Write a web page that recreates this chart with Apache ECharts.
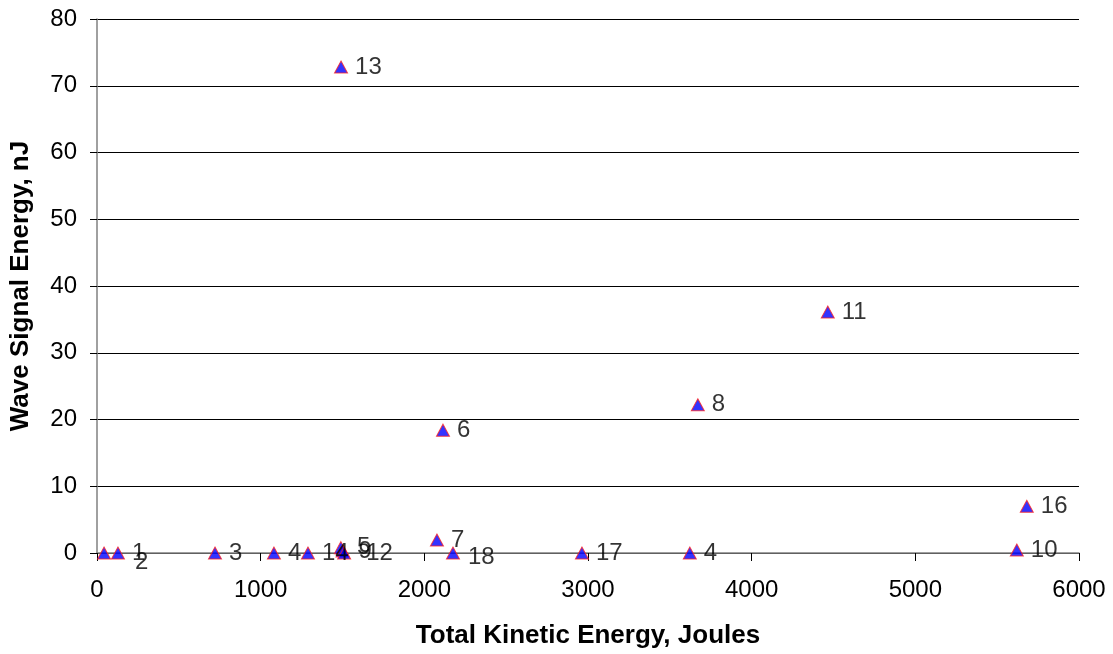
<!DOCTYPE html>
<html>
<head>
<meta charset="utf-8">
<script src="https://cdn.jsdelivr.net/npm/echarts@6/dist/echarts.min.js"></script>
<style>
html,body{margin:0;padding:0;background:#fff;}
#chart{width:1113px;height:654px;}
</style>
</head>
<body>
<div id="chart"></div>
<script>
// Data
const pointNames     = ['2', '1', '3', '4', '14', '5', '9', '12', '13', '7', '6', '18', '17', '4', '8', '11', '10', '16'];
const kineticEnergy  = [43, 128, 721, 1081, 1289, 1490, 1500, 1510, 1491, 2077, 2114, 2175, 2963, 3622, 3671, 4465, 5620, 5681];
const signalEnergy   = [0, 0, 0, 0, 0, 0.8, 0.3, 0, 72.8, 1.95, 18.4, 0, 0, 0, 22.2, 36.1, 0.45, 7.0];
const xTicks = [0, 1000, 2000, 3000, 4000, 5000, 6000];
const yTicks = [0, 10, 20, 30, 40, 50, 60, 70, 80];

// label nudges (layout only)
const labelOffsets = { 0: [17, 9], 5: [2, 0], 6: [2, 0], 7: [8, 0], 11: [1, 4] };

const data = kineticEnergy.map((x, i) => {
  const item = { value: [x, signalEnergy[i]], name: pointNames[i] };
  if (labelOffsets[i]) item.label = { offset: labelOffsets[i] };
  return item;
});

const chart = echarts.init(document.getElementById('chart'));
chart.setOption({
  animation: false,
  grid: { left: 97, right: 34, top: 19, bottom: 101, outerBoundsMode: 'none', containLabel: false },
  xAxis: {
    type: 'value', min: xTicks[0], max: xTicks[xTicks.length - 1], interval: 1000,
    name: 'Total Kinetic Energy, Joules', nameLocation: 'middle', nameGap: 70,
    nameTextStyle: { fontFamily: 'Liberation Sans', fontWeight: 'bold', fontSize: 26, color: '#000' },
    axisLine: { lineStyle: { color: '#808080', width: 1.5 } },
    axisTick: { show: true, inside: false, length: 8, lineStyle: { color: '#000' } },
    axisLabel: { fontFamily: 'Liberation Sans', fontSize: 24, color: '#000', margin: 25, formatter: v => String(v) },
    splitLine: { show: false }
  },
  yAxis: {
    type: 'value', min: yTicks[0], max: yTicks[yTicks.length - 1], interval: 10,
    name: 'Wave Signal Energy, nJ', nameLocation: 'middle', nameGap: 63, nameRotate: 90,
    nameTextStyle: { fontFamily: 'Liberation Sans', fontWeight: 'bold', fontSize: 26, color: '#000' },
    axisLine: { show: true, lineStyle: { color: '#808080', width: 1.5 } },
    axisTick: { show: true, inside: false, length: 7, lineStyle: { color: '#000' } },
    axisLabel: { fontFamily: 'Liberation Sans', fontSize: 24, color: '#000', margin: 20 },
    splitLine: { show: true, lineStyle: { color: '#000', width: 1 } }
  },
  series: [{
    type: 'scatter',
    symbol: 'triangle',
    symbolSize: [13, 12],
    itemStyle: { color: '#0000ff', borderColor: '#ff2020', borderWidth: 1 },
    label: {
      show: true, position: 'right', distance: 7,
      formatter: p => p.name,
      fontFamily: 'Liberation Sans', fontSize: 24, color: '#000'
    },
    data: data
  }]
});
</script>
</body>
</html>
